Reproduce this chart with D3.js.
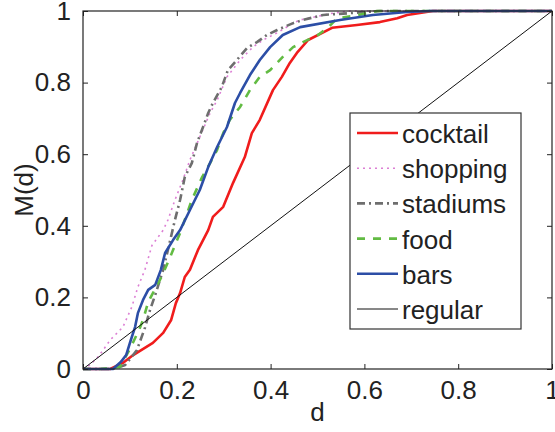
<!DOCTYPE html>
<html>
<head>
<meta charset="utf-8">
<script src="https://cdn.jsdelivr.net/npm/d3@7"></script>
<style>
  body { margin: 0; background: #fff; }
  text { font-family: "Liberation Sans", Arial, sans-serif; fill: #222; }
</style>
</head>
<body>
<div id="chart"></div>
<script>
// series names (legend order) and their [d, M(d)] points
var names = ["cocktail", "shopping", "stadiums", "food", "bars", "regular"];

var cocktail = [[0,0],[0.058,0],[0.085,0.017],[0.107,0.039],[0.149,0.073],[0.171,0.101],[0.188,0.137],
  [0.198,0.184],[0.207,0.212],[0.217,0.257],[0.228,0.277],[0.245,0.332],[0.267,0.388],[0.277,0.425],
  [0.299,0.453],[0.320,0.520],[0.345,0.592],[0.360,0.659],[0.377,0.696],[0.405,0.779],[0.424,0.816],
  [0.441,0.855],[0.456,0.883],[0.480,0.919],[0.531,0.953],[0.584,0.961],[0.633,0.969],[0.670,0.980],
  [0.691,0.989],[0.746,1],[1,1]];

var shopping = [[0,0],[0.015,0.011],[0.032,0.034],[0.043,0.053],[0.058,0.081],[0.085,0.117],[0.104,0.173],
  [0.117,0.229],[0.132,0.277],[0.147,0.345],[0.171,0.388],[0.181,0.416],[0.196,0.472],[0.213,0.528],
  [0.228,0.584],[0.249,0.648],[0.271,0.715],[0.286,0.751],[0.307,0.816],[0.335,0.863],[0.362,0.899],
  [0.384,0.919],[0.414,0.939],[0.448,0.966],[0.463,0.975],[0.533,0.994],[0.569,1],[1,1]];

var stadiums = [[0,0],[0.058,0],[0.079,0.006],[0.090,0.011],[0.115,0.053],[0.132,0.115],[0.143,0.165],
  [0.154,0.207],[0.171,0.277],[0.186,0.360],[0.196,0.416],[0.207,0.472],[0.217,0.536],[0.232,0.575],
  [0.243,0.631],[0.256,0.676],[0.267,0.715],[0.277,0.743],[0.296,0.788],[0.309,0.835],[0.328,0.863],
  [0.350,0.897],[0.371,0.913],[0.392,0.933],[0.414,0.947],[0.448,0.966],[0.469,0.975],[0.512,0.989],
  [0.569,0.994],[0.633,1],[1,1]];

var food = [[0,0],[0.036,0],[0.079,0.006],[0.102,0.061],[0.122,0.117],[0.128,0.137],[0.139,0.187],
  [0.149,0.212],[0.164,0.249],[0.171,0.268],[0.186,0.313],[0.198,0.352],[0.207,0.380],[0.232,0.472],
  [0.254,0.536],[0.271,0.575],[0.286,0.612],[0.299,0.659],[0.313,0.696],[0.335,0.732],[0.356,0.779],
  [0.377,0.816],[0.399,0.835],[0.426,0.872],[0.448,0.899],[0.469,0.913],[0.501,0.933],[0.522,0.953],
  [0.542,0.980],[0.576,0.986],[0.606,0.994],[0.627,1],[1,1]];

var bars = [[0,0],[0.064,0],[0.081,0.020],[0.092,0.039],[0.102,0.081],[0.111,0.117],[0.117,0.156],
  [0.128,0.193],[0.139,0.221],[0.154,0.235],[0.166,0.277],[0.175,0.324],[0.192,0.360],[0.207,0.388],
  [0.228,0.444],[0.249,0.500],[0.267,0.564],[0.286,0.620],[0.307,0.676],[0.324,0.743],[0.335,0.771],
  [0.356,0.821],[0.377,0.863],[0.399,0.899],[0.426,0.933],[0.463,0.955],[0.548,0.975],[0.618,0.989],
  [0.691,0.997],[0.740,1],[1,1]];

var regular = [[0,0],[1,1]];

var ticks = [0, 0.2, 0.4, 0.6, 0.8, 1];
var tickLabels = ["0", "0.2", "0.4", "0.6", "0.8", "1"];

var series = [
  {name: names[0], values: cocktail, color: "#f01c1c", width: 2.6, dash: null},
  {name: names[1], values: shopping, color: "#dc7fd4", width: 1.6, dash: "2,4"},
  {name: names[2], values: stadiums, color: "#6e6e6e", width: 2.6, dash: "8,4,2,4"},
  {name: names[3], values: food, color: "#62bb43", width: 2.6, dash: "8,8"},
  {name: names[4], values: bars, color: "#2c4ea6", width: 2.6, dash: null},
  {name: names[5], values: regular, color: "#111", width: 1, dash: null}
];

var margin = {top: 11, right: 3, bottom: 63, left: 83},
    width = 555 - margin.left - margin.right,
    height = 432 - margin.top - margin.bottom;

var svg = d3.select("#chart")
  .append("svg")
    .attr("width", 555)
    .attr("height", 432)
  .append("g")
    .attr("transform", "translate(" + margin.left + "," + margin.top + ")");

var x = d3.scaleLinear().domain([0, 1]).range([0, width]);
var y = d3.scaleLinear().domain([0, 1]).range([height, 0]);

// lines
var line = d3.line()
  .x(function(d) { return x(d[0]); })
  .y(function(d) { return y(d[1]); });

series.forEach(function(s) {
  svg.append("path")
    .datum(s.values)
    .attr("fill", "none")
    .attr("stroke", s.color)
    .attr("stroke-width", s.width)
    .attr("stroke-dasharray", s.dash)
    .attr("stroke-linejoin", "round")
    .attr("d", line);
});

// axes, matlab style: ticks inside, on all four sides
function fmt(d, i) { return tickLabels[i]; }

svg.append("g")
  .attr("transform", "translate(0," + height + ")")
  .call(d3.axisBottom(x).tickValues(ticks).tickSizeInner(-5).tickSizeOuter(0).tickPadding(12).tickFormat(fmt))
  .call(function(g) { g.select(".domain").remove(); });

svg.append("g")
  .call(d3.axisLeft(y).tickValues(ticks).tickSizeInner(-5).tickSizeOuter(0).tickPadding(12).tickFormat(fmt))
  .call(function(g) { g.select(".domain").remove(); });

svg.append("g")
  .call(d3.axisTop(x).tickValues(ticks).tickSizeInner(-5).tickSizeOuter(0).tickFormat(""))
  .call(function(g) { g.select(".domain").remove(); });

svg.append("g")
  .attr("transform", "translate(" + width + ",0)")
  .call(d3.axisRight(y).tickValues(ticks).tickSizeInner(-5).tickSizeOuter(0).tickFormat(""))
  .call(function(g) { g.select(".domain").remove(); });

svg.selectAll(".tick line").attr("stroke", "#222");
svg.selectAll(".tick text")
  .style("font-size", "26px")
  .style("font-family", "Liberation Sans, Arial, sans-serif")
  .attr("fill", "#222");

svg.append("rect")
  .attr("width", width)
  .attr("height", height)
  .attr("fill", "none")
  .attr("stroke", "#222")
  .attr("stroke-width", 1.2);

// axis labels
svg.append("text")
  .attr("x", width / 2)
  .attr("y", height + 52)
  .style("text-anchor", "middle")
  .style("font-size", "26px")
  .text("d");

svg.append("text")
  .attr("transform", "rotate(-90)")
  .attr("x", -height / 2)
  .attr("y", -50)
  .style("text-anchor", "middle")
  .style("font-size", "26px")
  .text("M(d)");

// legend
var legend = svg.append("g")
  .attr("transform", "translate(" + (350 - margin.left) + "," + (113 - margin.top) + ")");

legend.append("rect")
  .attr("width", 171)
  .attr("height", 216)
  .attr("fill", "#fff")
  .attr("stroke", "#333")
  .attr("stroke-width", 1.2);

series.forEach(function(s, i) {
  var yy = 20 + i * 35.2;
  legend.append("line")
    .attr("x1", 7).attr("x2", 48)
    .attr("y1", yy).attr("y2", yy)
    .attr("stroke", s.color)
    .attr("stroke-width", s.width)
    .attr("stroke-dasharray", s.dash);
  legend.append("text")
    .attr("x", 52)
    .attr("y", yy + 10)
    .style("font-size", "26px")
    .text(s.name);
});
</script>
</body>
</html>
